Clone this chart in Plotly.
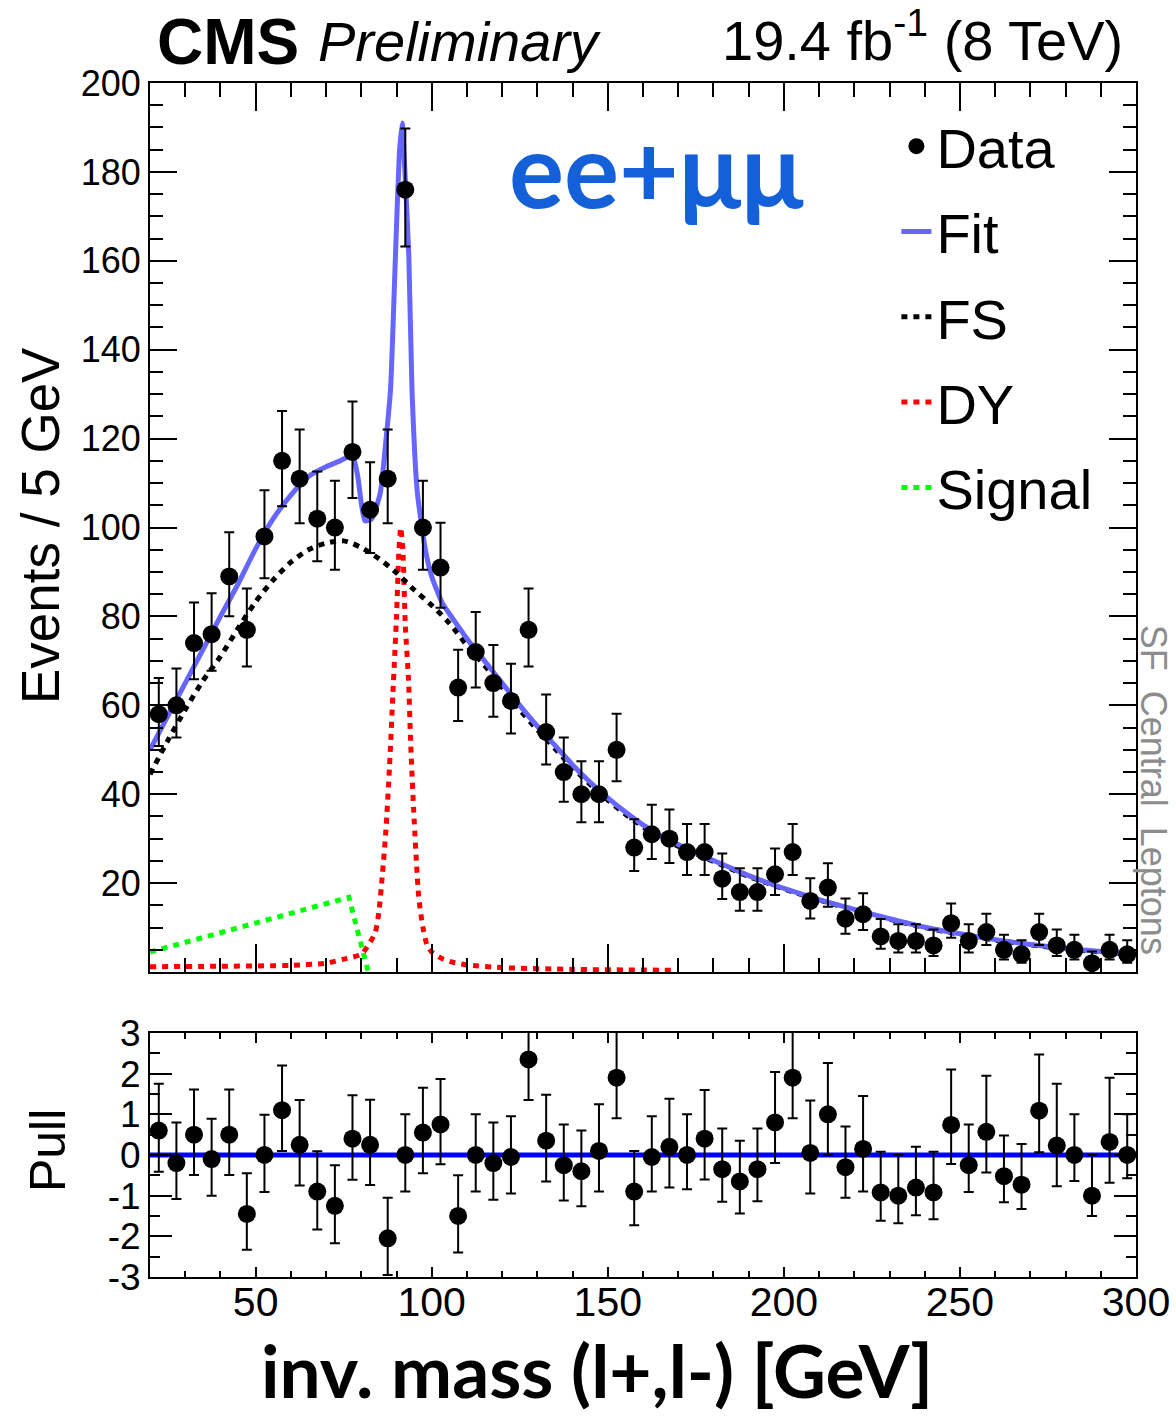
import plotly.graph_objects as go

# ---------------- data ----------------
bin_centers = [22.5, 27.5, 32.5, 37.5, 42.5, 47.5, 52.5, 57.5, 62.5, 67.5,
               72.5, 77.5, 82.5, 87.5, 92.5, 97.5, 102.5, 107.5, 112.5, 117.5,
               122.5, 127.5, 132.5, 137.5, 142.5, 147.5, 152.5, 157.5, 162.5, 167.5,
               172.5, 177.5, 182.5, 187.5, 192.5, 197.5, 202.5, 207.5, 212.5, 217.5,
               222.5, 227.5, 232.5, 237.5, 242.5, 247.5, 252.5, 257.5, 262.5, 267.5,
               272.5, 277.5, 282.5, 287.5, 292.5, 297.5]

events = [58, 60, 74, 76, 89, 77, 98, 115, 111, 102,
          100, 117, 104, 111, 176, 100, 91, 64, 72, 65,
          61, 77, 54, 45, 40, 40, 50, 28, 31, 30,
          27, 27, 21, 18, 18, 22, 27, 16, 19, 12,
          13, 8, 7, 7, 6, 11, 7, 9, 5, 4,
          9, 6, 5, 2, 5, 4]

events_err_up = [8.13, 8.26, 9.12, 9.23, 9.95, 9.29, 10.41, 11.24, 11.05, 10.61,
                 10.51, 11.33, 10.71, 11.05, 13.78, 10.51, 10.05, 8.52, 9.00, 8.58,
                 8.33, 9.29, 8.41, 7.77, 7.40, 7.40, 8.13, 6.39, 6.66, 6.57,
                 6.29, 6.29, 5.68, 5.34, 5.34, 5.79, 6.29, 5.10, 5.46, 4.57,
                 4.71, 3.95, 3.77, 3.77, 3.58, 4.42, 3.77, 4.11, 3.38, 3.16,
                 4.11, 3.58, 3.38, 2.64, 3.38, 3.16]
events_err_down = [7.13, 7.26, 8.12, 8.23, 8.95, 8.29, 9.41, 10.24, 10.05, 9.61,
                   9.51, 10.33, 9.71, 10.05, 12.78, 9.51, 9.05, 7.52, 8.00, 7.58,
                   7.33, 8.29, 7.33, 6.69, 6.30, 6.30, 7.05, 5.26, 5.54, 5.45,
                   5.17, 5.17, 4.55, 4.21, 4.21, 4.66, 5.17, 3.96, 4.32, 3.41,
                   3.55, 2.77, 2.58, 2.58, 2.38, 3.26, 2.58, 2.94, 2.16, 1.91,
                   2.94, 2.38, 2.16, 1.29, 2.16, 1.91]

pulls = [0.6, -0.2, 0.5, -0.1, 0.5, -1.45, 0.0, 1.1, 0.25, -0.9,
         -1.25, 0.4, 0.25, -2.05, 0.0, 0.55, 0.75, -1.5, 0.0, -0.2,
         -0.05, 2.35, 0.35, -0.25, -0.4, 0.1, 1.9, -0.9, -0.05, 0.2,
         0.0, 0.4, -0.35, -0.65, -0.35, 0.8, 1.9, 0.05, 1.0, -0.3,
         0.15, -0.92, -1.0, -0.8, -0.92, 0.74, -0.25, 0.57, -0.52, -0.73,
         1.09, 0.23, 0.0, -1.0, 0.32, 0.0]
pull_err_up = [1.15, 1.0, 1.11, 0.99, 1.11, 1.0, 0.99, 1.1, 1.1, 0.99,
               1.0, 1.07, 1.11, 1.0, 1.0, 1.1, 1.12, 1.0, 1.0, 1.0,
               1.0, 1.12, 1.13, 1.0, 1.0, 1.15, 1.14, 1.0, 1.0, 1.18,
               1.0, 1.2, 1.0, 1.0, 1.0, 1.24, 1.22, 1.29, 1.26, 1.0,
               1.3, 1.0, 1.0, 1.0, 1.0, 1.36, 1.0, 1.38, 1.0, 1.0,
               1.38, 1.52, 1.0, 1.0, 1.58, 1.0]
pull_err_down = [1.01, 0.88, 0.99, 0.9, 0.99, 0.88, 0.91, 1.0, 1.0, 0.93,
                 0.92, 1.01, 0.99, 0.9, 0.9, 1.0, 0.98, 0.9, 0.9, 0.9,
                 0.9, 1.0, 1.0, 0.87, 0.86, 1.0, 1.0, 0.83, 0.85, 1.0,
                 0.84, 1.0, 0.8, 0.79, 0.79, 1.0, 1.0, 1.0, 1.0, 0.75,
                 1.05, 0.7, 0.68, 0.68, 0.66, 0.96, 0.66, 1.0, 0.64, 0.6,
                 1.02, 1.0, 0.64, 0.5, 1.0, 0.57]

fit_mass = [20, 25, 30, 35, 40, 45, 50, 55, 60, 65,
            70, 74, 77.5, 79, 81, 83, 85.4, 86.8, 88.3, 89.7,
            90.8, 91.6, 92.4, 93.5, 94.4, 95.9, 98.2, 100, 103, 106,
            110, 115, 120, 125, 130, 135, 140, 145, 150, 155,
            160, 165, 170, 175, 180, 185, 190, 195, 200, 210,
            220, 230, 240, 250, 260, 270, 280, 290, 300]
fit_vals = [50, 57.5, 65, 72.5, 80, 87.3, 95.2, 102, 107.3, 111.5,
            113.7, 115, 116.2, 111.5, 101.5, 102, 107.8, 118, 131, 161,
            184, 191, 180, 161, 131, 108, 95, 89, 83, 79.5,
            75, 70, 65, 60, 55.3, 51, 46.6, 42.7, 39.2, 36,
            33.1, 30.7, 28.7, 26.8, 25.1, 23.4, 21.7, 20.2, 18.8, 16.3,
            14.1, 12.0, 10.1, 8.6, 7.3, 6.2, 5.3, 4.6, 4.0]

fs_mass = [20, 25, 30, 35, 40, 45, 50, 55, 60, 65,
           70, 75, 80, 85, 90, 95, 100, 105, 110, 115,
           120, 125, 130, 135, 140, 145, 150, 155, 160, 165,
           170, 175, 180, 185, 190, 195, 200, 210, 220, 230,
           240, 250, 260, 270, 280, 290, 300]
fs_vals = [44.5, 52, 59, 65.5, 71, 77.3, 83.3, 88.2, 92.2, 95,
           96.5, 97, 95.5, 93, 89.8, 86, 82.5, 78.5, 73.5, 69,
           64, 59, 54.5, 50.3, 46, 42.2, 38.7, 35.5, 32.7, 30.3,
           28.3, 26.6, 24.9, 23.2, 21.5, 20.1, 18.7, 16.2, 14.0, 11.9,
           10.0, 8.5, 7.2, 6.1, 5.2, 4.5, 3.9]

dy_mass = [20, 40, 60, 70, 75, 80, 82.5, 84, 85, 86,
           87, 88, 89, 90, 90.7, 91.2, 91.8, 92.5, 93.4, 94,
           94.9, 96.3, 97.5, 98.7, 100, 103, 106, 110, 120, 140, 170]
dy_vals = [1.2, 1.3, 1.5, 2.0, 2.9, 4.0, 6.7, 9.0, 13.5, 22.0,
           32.0, 46.0, 63.0, 80.0, 95.0, 100.0, 95.0, 78.0, 66.0, 52.0,
           36.0, 17.0, 10.0, 6.0, 4.5, 3.0, 2.2, 1.6, 1.0, 0.6, 0.4]

signal_mass = [20, 40, 60, 76.5, 78.8, 80.6, 82]
signal_vals = [4.5, 8.8, 13.2, 16.8, 9.7, 3.6, 0.0]

pull_ref_mass = [20, 300]
pull_ref_vals = [0, 0]

top_yticks = [20, 40, 60, 80, 100, 120, 140, 160, 180, 200]
pull_yticks = [-3, -2, -1, 0, 1, 2, 3]
pull_yticktext = ["-3", "-2", "-1", "0", "1", "2", "3"]
mass_ticks = [50, 100, 150, 200, 250, 300]

# ---------------- figure ----------------
FONT = "Liberation Sans, Arial, Helvetica, sans-serif"
HUM = "Lato, Open Sans, sans-serif"
DOT = "6px,6px"

fig = go.Figure()

fig.add_trace(go.Scatter(x=signal_mass, y=signal_vals, mode="lines", name="Signal",
                         line=dict(color="#00ff00", width=5, dash=DOT),
                         legendgroup="g5", legendrank=5, xaxis="x", yaxis="y"))
fig.add_trace(go.Scatter(x=dy_mass, y=dy_vals, mode="lines", name="DY",
                         line=dict(color="#ff0000", width=5, dash=DOT, shape="spline", smoothing=0.6),
                         legendgroup="g4", legendrank=4, xaxis="x", yaxis="y"))
fig.add_trace(go.Scatter(x=fs_mass, y=fs_vals, mode="lines", name="FS",
                         line=dict(color="#000000", width=5, dash=DOT, shape="spline", smoothing=0.8),
                         legendgroup="g3", legendrank=3, xaxis="x", yaxis="y"))
fig.add_trace(go.Scatter(x=fit_mass, y=fit_vals, mode="lines", name="Fit",
                         line=dict(color="#6666ff", width=5, shape="spline", smoothing=0.5),
                         legendgroup="g2", legendrank=2, xaxis="x", yaxis="y"))
fig.add_trace(go.Scatter(x=bin_centers, y=events, mode="markers", name="Data",
                         marker=dict(color="black", size=18),
                         error_y=dict(type="data", symmetric=False, array=events_err_up,
                                      arrayminus=events_err_down, color="black",
                                      thickness=2, width=5),
                         legendgroup="g1", legendrank=1, xaxis="x", yaxis="y"))

fig.add_trace(go.Scatter(x=pull_ref_mass, y=pull_ref_vals, mode="lines",
                         line=dict(color="#0000ff", width=5), showlegend=False,
                         xaxis="x2", yaxis="y2"))
fig.add_trace(go.Scatter(x=bin_centers, y=pulls, mode="markers",
                         marker=dict(color="black", size=18), showlegend=False,
                         error_y=dict(type="data", symmetric=False, array=pull_err_up,
                                      arrayminus=pull_err_down, color="black",
                                      thickness=2, width=5),
                         xaxis="x2", yaxis="y2"))

axis_common = dict(showline=True, linewidth=2, linecolor="black", mirror="allticks",
                   ticks="inside", tickwidth=2, tickcolor="black",
                   showgrid=False, zeroline=False, automargin=False)

fig.update_layout(
    width=1176, height=1423,
    margin=dict(l=150, r=40, t=83, b=146, autoexpand=False),
    paper_bgcolor="white", plot_bgcolor="white",
    font=dict(family=FONT, color="black"),
    xaxis=dict(domain=[0, 1], range=[20, 300], anchor="y", showticklabels=False,
               tickmode="array", tickvals=mass_ticks, ticklen=28,
               minor=dict(ticks="inside", ticklen=14, tickwidth=2, tickcolor="black",
                          tickmode="linear", tick0=0, dtick=10),
               **axis_common),
    yaxis=dict(domain=[0.2554, 1], range=[0, 200], anchor="x",
               tickmode="array", tickvals=top_yticks,
               ticklen=27, tickfont=dict(size=36, family=FONT),
               minor=dict(ticks="inside", ticklen=13, tickwidth=2, tickcolor="black",
                          tickmode="linear", tick0=0, dtick=5),
               **axis_common),
    xaxis2=dict(domain=[0, 1], range=[20, 300], anchor="y2",
                tickmode="array", tickvals=mass_ticks, ticklen=10,
                tickfont=dict(size=41, family=FONT), ticklabelstandoff=-12,
                minor=dict(ticks="inside", ticklen=6, tickwidth=2, tickcolor="black",
                           tickmode="linear", tick0=0, dtick=10),
                **axis_common),
    yaxis2=dict(domain=[0, 0.2044], range=[-3, 3], anchor="x2",
                tickmode="array", tickvals=pull_yticks, ticktext=pull_yticktext,
                ticklen=22, tickfont=dict(size=37, family=FONT),
                minor=dict(ticks="inside", ticklen=10, tickwidth=2, tickcolor="black",
                           tickmode="linear", tick0=0, dtick=0.5),
                **axis_common),
    legend=dict(x=0.757, y=0.983, xanchor="left", yanchor="top",
                font=dict(size=56, family=FONT), bgcolor="rgba(0,0,0,0)",
                traceorder="grouped", tracegroupgap=9.5, itemwidth=30),
    showlegend=True,
)

annotations = [
    dict(text="<b>CMS</b>", x=0.005, y=1.0345, xanchor="left", yanchor="middle",
         font=dict(size=64, family=FONT)),
    dict(text="<i>Preliminary</i>", x=0.1684, y=1.0345, xanchor="left", yanchor="middle",
         font=dict(size=56, family=FONT)),
    dict(text="19.4 fb<sup>-1</sup> (8 TeV)", x=0.9888, y=1.039, xanchor="right",
         yanchor="middle", font=dict(size=56, family=FONT)),
    dict(text="<b>ee+μμ</b>", x=0.514, y=0.929, xanchor="center", yanchor="middle",
         font=dict(size=103, family=HUM, color="#1460d8")),
    dict(text="SF  Central  Leptons", x=1.0175, y=0.4079, xanchor="center", yanchor="middle",
         textangle=90, font=dict(size=36, family=FONT, color="#8c8c8c")),
    dict(text="Events / 5 GeV", x=-0.1116, y=0.6298, xanchor="center", yanchor="middle",
         textangle=-90, font=dict(size=53, family=FONT)),
    dict(text="Pull", x=-0.1034, y=0.1055, xanchor="center", yanchor="middle",
         textangle=-90, font=dict(size=50, family=FONT)),
    dict(text="<b>inv. mass (l+,l-) [GeV]</b>", x=0.4533, y=-0.078, xanchor="center",
         yanchor="middle", font=dict(size=73, family=HUM)),
]
for a in annotations:
    a.update(xref="paper", yref="paper", showarrow=False)
fig.update_layout(annotations=annotations)

fig.write_html("out.html", config={"displayModeBar": False},
               post_script="document.body.style.margin='0';document.body.style.overflow='hidden';")
